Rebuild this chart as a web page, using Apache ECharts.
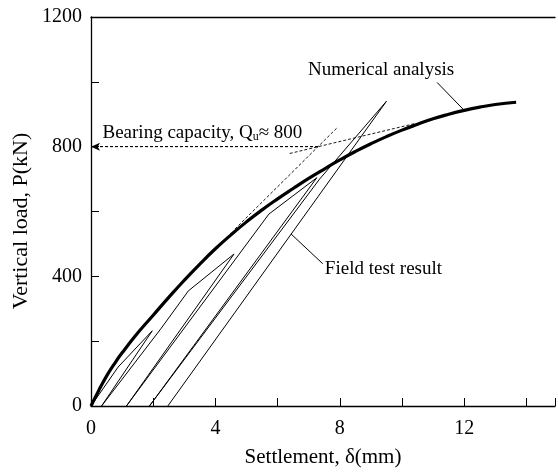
<!DOCTYPE html>
<html>
<head>
<meta charset="utf-8">
<script src="https://cdn.jsdelivr.net/npm/echarts@6/dist/echarts.min.js"></script>
<style>
html,body{margin:0;padding:0;background:#fff;}
#c{width:558px;height:473px;}
</style>
</head>
<body>
<div id="c"></div>
<script>
// ---- data ----
const xTicks = [0, 4, 8, 12];
const yTicks = [0, 400, 800, 1200];
const numDelta = [0, 0.25, 0.5, 0.75, 1, 1.5, 2, 2.5, 3, 3.5, 4, 4.5, 5, 5.5, 6, 6.5, 7, 7.5, 8, 8.5, 9, 9.5, 10, 10.5, 11, 11.5, 12, 12.5, 13, 13.67];
const numLoad  = [0, 48, 92, 130, 164, 225, 280, 335, 388, 438, 485, 528, 568, 605, 639, 671, 702, 731, 759, 785, 809, 831, 851, 869, 886, 900, 912, 922, 930, 937];
const fieldDelta = [0, 0.87, 1.97, 0.34, 2.26, 3.13, 4.6, 1.14, 5.72, 7.26, 1.88, 7.35, 9.5, 2.47];
const fieldLoad  = [0, 120, 232, 0, 240, 355, 469, 0, 592, 704, 0, 700, 940, 0];
const tangent1Delta = [4.63, 7.91];
const tangent1Load  = [546, 858];
const tangent2Delta = [6.39, 10.4];
const tangent2Load  = [779, 871];
const capacityDelta = [7.3, 0];
const capacityLoad  = [800, 800];
const fieldLeaderDelta = [6.43, 7.45];
const fieldLeaderLoad  = [531, 439];
const numLeaderDelta = [11.13, 11.96];
const numLeaderLoad  = [998, 916];
const labels = {
  numerical: {text: 'Numerical analysis', at: [6.98, 1037]},
  field: {text: 'Field test result', at: [7.52, 424]},
  capacity: {text: 'Bearing capacity, Q{s|u}\u2248 800', at: [0.37, 842]}
};

const FONT = '"Liberation Serif","Times New Roman",serif';
const pairs = (xs, ys) => xs.map((x, i) => [x, ys[i]]);

const chart = echarts.init(document.getElementById('c'), null, {renderer: 'canvas'});
const axisLine = {show: true, lineStyle: {color: '#000', width: 1.3}};
const option = {
  animation: false,
  backgroundColor: '#fff',
  grid: {left: 91, right: 0, top: 17, bottom: 65},
  xAxis: [{
    type: 'value', min: 0, max: 14.92, interval: 2,
    axisLine: axisLine,
    axisTick: {show: true, inside: true, length: 8, lineStyle: {color: '#000', width: 1}},
    axisLabel: {color: '#000', fontFamily: FONT, fontSize: 20, margin: 13,
      formatter: v => xTicks.includes(v) ? String(v) : ''},
    splitLine: {show: false},
    name: 'Settlement, \u03b4(mm)', nameLocation: 'middle', nameGap: 41,
    nameTextStyle: {color: '#000', fontFamily: FONT, fontSize: 21}
  }, {
    type: 'value', position: 'top', min: 0, max: 14.92,
    axisLine: axisLine, axisTick: {show: false}, axisLabel: {show: false}, splitLine: {show: false}
  }],
  yAxis: [{
    type: 'value', min: 0, max: 1200, interval: 200,
    axisLine: axisLine,
    axisTick: {show: true, inside: true, length: 8, lineStyle: {color: '#000', width: 1}},
    axisLabel: {color: '#000', fontFamily: FONT, fontSize: 20, margin: 9,
      formatter: v => yTicks.includes(v) ? String(v) : ''},
    splitLine: {show: false}
  }],
  series: [
    {type: 'line', data: pairs(numDelta, numLoad), smooth: true, symbol: 'none',
      lineStyle: {color: '#000', width: 3.2}, z: 5},
    {type: 'line', data: pairs(fieldDelta, fieldLoad), symbol: 'none',
      lineStyle: {color: '#000', width: 1}, z: 4},
    {type: 'line', data: pairs(tangent1Delta, tangent1Load), symbol: 'none',
      lineStyle: {color: '#000', width: 0.9, type: [3, 2]}},
    {type: 'line', data: pairs(tangent2Delta, tangent2Load), symbol: 'none',
      lineStyle: {color: '#000', width: 0.9, type: [3, 2]}},
    {type: 'line', data: pairs(capacityDelta, capacityLoad), symbol: 'none',
      lineStyle: {color: '#000', width: 0.9, type: [3, 2]},
      markLine: {silent: true, symbol: ['none', 'arrow'], symbolSize: [6, 9],
        lineStyle: {color: '#000', width: 0.9, type: [3, 2]}, label: {show: false},
        data: [[{coord: [capacityDelta[0], capacityLoad[0]]}, {coord: [capacityDelta[1], capacityLoad[1]]}]]}},
    {type: 'line', data: pairs(fieldLeaderDelta, fieldLeaderLoad), symbol: 'none',
      lineStyle: {color: '#000', width: 1}},
    {type: 'line', data: pairs(numLeaderDelta, numLeaderLoad), symbol: 'none',
      lineStyle: {color: '#000', width: 1}}
  ]
};
chart.setOption(option);

const px = p => chart.convertToPixel({xAxisIndex: 0, yAxisIndex: 0}, p);
const tStyle = (text, pos) => ({
  type: 'text', x: pos[0], y: pos[1],
  style: {text: text, fill: '#000', fontFamily: FONT, fontSize: 19, verticalAlign: 'middle', align: 'left'}
});
const pN = px(labels.numerical.at), pF = px(labels.field.at), pC = px(labels.capacity.at);
chart.setOption({
  graphic: [
    tStyle(labels.numerical.text, pN),
    tStyle(labels.field.text, pF),
    {type: 'text', x: pC[0], y: pC[1],
      style: {text: labels.capacity.text, fill: '#000', fontFamily: FONT, fontSize: 19,
        verticalAlign: 'middle', align: 'left', lineHeight: 20,
        rich: {s: {fontFamily: FONT, fontSize: 12, lineHeight: 12, verticalAlign: 'bottom'}}}},
    {type: 'text', x: 21, y: 221, rotation: Math.PI / 2,
      style: {text: 'Vertical load, P(kN)', fill: '#000', fontFamily: FONT, fontSize: 22,
        align: 'center', verticalAlign: 'middle'}}
  ]
});
</script>
</body>
</html>
